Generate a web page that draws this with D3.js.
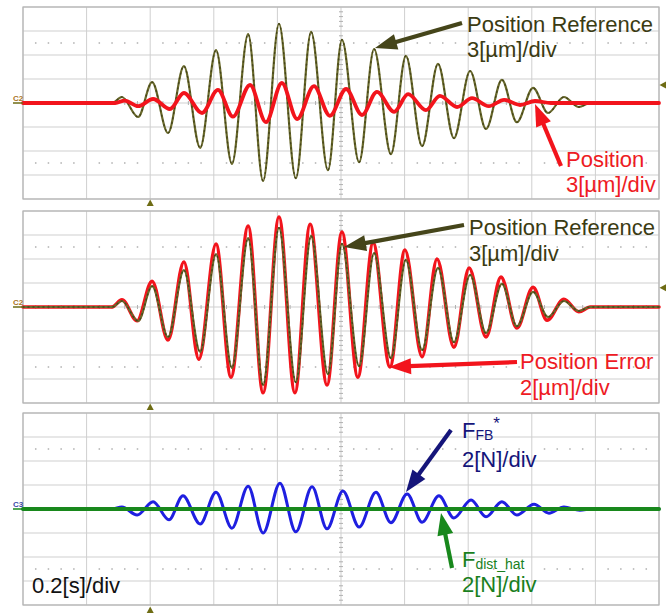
<!DOCTYPE html>
<html>
<head>
<meta charset="utf-8">
<script src="https://cdn.jsdelivr.net/npm/d3@7/dist/d3.min.js"></script>
<style>
  html, body { margin: 0; padding: 0; background: #ffffff; }
  svg { display: block; }
  text { font-family: "Liberation Sans", Arial, sans-serif; }
</style>
</head>
<body>
<svg id="chart" width="668" height="613"></svg>
<script>
// ---------------- DATA ----------------
// time axis: 0.2 s / div, 10 divisions
const timeDomain = [0, 2.0];
const timeUnitLabel = "0.2[s]/div";

// Position reference (µm), used in panel 1 and panel 2 (3 µm/div)
const refTimes  = [0, 0.280, 0.311, 0.362, 0.406, 0.456, 0.506, 0.557, 0.607, 0.657, 0.708, 0.755, 0.805, 0.858, 0.906, 0.959,
                   1.003, 1.057, 1.104, 1.157, 1.204, 1.255, 1.305, 1.355, 1.406, 1.456, 1.506, 1.553, 1.604, 1.651,
                   1.701, 1.748, 1.783, 2.0];
const refValues = [0, 0, 0.75, -1.75, 2.6, -3.75, 4.6, -5.6, 6.6, -7.6, 8.6, -9.75, 9.9, -9.4, 8.9, -8.4,
                   7.9, -7.4, 6.75, -6.4, 5.9, -5.4, 4.9, -4.4, 4.0, -3.25, 2.9, -2.4, 1.9, -1.25,
                   0.75, -0.5, 0, 0];

// Position (µm), panel 1 (3 µm/div)
const posTimes  = [0, 0.290, 0.320, 0.362, 0.409, 0.462, 0.506, 0.563, 0.613, 0.660, 0.714, 0.764, 0.814, 0.862, 0.915, 0.965,
                   1.016, 1.066, 1.113, 1.167, 1.211, 1.267, 1.311, 1.365, 1.412, 1.465, 1.513, 1.563, 1.610, 1.660, 2.0];
const posValues = [0, 0, 0.3, -0.4, 0.5, -0.75, 1.25, -1.25, 1.65, -1.7, 2.25, -2.4, 2.5, -2.0, 2.1, -1.6,
                   1.75, -1.5, 1.4, -1.1, 1.1, -0.9, 0.9, -0.5, 0.6, -0.4, 0.4, -0.25, 0.25, 0, 0];

// Position error (µm), panel 2 (2 µm/div)
const errTimes  = [0, 0.280, 0.311, 0.359, 0.406, 0.456, 0.506, 0.553, 0.607, 0.654, 0.708, 0.755, 0.805, 0.855, 0.903, 0.956,
                   1.003, 1.053, 1.101, 1.154, 1.201, 1.255, 1.302, 1.355, 1.403, 1.456, 1.503, 1.553, 1.604, 1.648,
                   1.701, 1.748, 1.783, 2.0];
const errValues = [0, 0, 0.6, -1.15, 2.15, -2.75, 3.75, -4.35, 5.25, -5.85, 6.75, -7.15, 7.5, -7.15, 6.9, -6.5,
                   6.25, -5.85, 5.35, -5.0, 4.75, -4.15, 4.0, -3.35, 3.25, -2.5, 2.5, -1.75, 1.65, -1.1,
                   0.65, -0.4, 0, 0];

// F_FB* (N), panel 3 (2 N/div)
const ffbTimes  = [0, 0.280, 0.311, 0.359, 0.409, 0.459, 0.503, 0.557, 0.607, 0.657, 0.708, 0.755, 0.808, 0.858, 0.909, 0.956,
                   1.006, 1.057, 1.110, 1.157, 1.208, 1.255, 1.308, 1.355, 1.409, 1.456, 1.506, 1.553, 1.607, 1.654,
                   1.701, 1.751, 1.790, 2.0];
const ffbValues = [0, 0, 0.17, -0.5, 0.6, -0.9, 1.1, -1.25, 1.4, -1.6, 1.9, -2.0, 2.15, -1.9, 1.85, -1.65,
                   1.5, -1.5, 1.4, -1.15, 1.25, -1.1, 1.1, -0.75, 0.75, -0.65, 0.6, -0.5, 0.4, -0.35,
                   0.17, -0.1, 0, 0];

// F_dist_hat (N), panel 3 (2 N/div)
const fdistTimes  = [0, 2.0];
const fdistValues = [0, 0];

// ---------------- LAYOUT ----------------
const svg = d3.select("#chart");
const left = 23, right = 659, divPx = 24, nDivY = 8;
const panelTops = [7, 211, 413];
const x = d3.scaleLinear().domain(timeDomain).range([left, right]);
const FS = 22;

const C = {
  grid: "#cfcfcf", border: "#b4b4b4", dots: "#b0b0b0",
  olive: "#6a6a2c", oliveDark: "#45451a", oliveText: "#3b3b12",
  red: "#f2141c", redText: "#ee1b24",
  blue: "#1f1fe0", navy: "#15157a",
  green: "#18881c", greenText: "#1a7f1e",
  marker: "#6e6c14"
};

function panelScale(top, perDiv) {
  return d3.scaleLinear().domain([-nDivY / 2 * perDiv, nDivY / 2 * perDiv]).range([top + nDivY * divPx, top]);
}

function drawGrid(top) {
  const g = svg.append("g");
  const bottom = top + nDivY * divPx;
  const yDiv = d3.scaleLinear().domain([-4, 4]).range([bottom, top]);
  const xt = x.ticks(10);
  const yt = yDiv.ticks(8);
  g.selectAll(".vg").data(xt).join("line")
    .attr("x1", d => x(d)).attr("x2", d => x(d)).attr("y1", top).attr("y2", bottom)
    .attr("stroke", C.grid).attr("stroke-width", 1);
  g.selectAll(".hg").data(yt).join("line")
    .attr("y1", d => yDiv(d)).attr("y2", d => yDiv(d)).attr("x1", left).attr("x2", right)
    .attr("stroke", C.grid).attr("stroke-width", 1);
  const minor = d3.range(0, 2.0001, 0.04).filter((d, i) => i % 5 !== 0);
  [2.5, -2.5].forEach(r => {
    g.selectAll(null).data(minor).join("rect")
      .attr("x", d => x(d) - 0.75).attr("y", yDiv(r) - 0.75).attr("width", 1.5).attr("height", 1.5)
      .attr("fill", C.dots);
  });
  g.selectAll(null).data(minor).join("line")
    .attr("x1", d => x(d)).attr("x2", d => x(d)).attr("y1", yDiv(0) - 2).attr("y2", yDiv(0) + 2)
    .attr("stroke", C.dots).attr("stroke-width", 1);
  const minorY = d3.range(-4, 4.0001, 0.2).filter((d, i) => i % 5 !== 0);
  g.selectAll(null).data(minorY).join("line")
    .attr("y1", d => yDiv(d)).attr("y2", d => yDiv(d)).attr("x1", x(1) - 2).attr("x2", x(1) + 2)
    .attr("stroke", C.dots).attr("stroke-width", 1);
  g.append("rect").attr("x", left).attr("y", top).attr("width", right - left).attr("height", bottom - top)
    .attr("fill", "none").attr("stroke", C.border).attr("stroke-width", 1.2);
  return yDiv;
}

function trace(times, values, yScale, color, width, dash) {
  const pts = times.map((t, i) => ({ t, v: values[i] }));
  const line = d3.line().x(d => x(d.t)).y(d => yScale(d.v)).curve(d3.curveMonotoneX);
  const p = svg.append("path").datum(pts).attr("d", line)
    .attr("fill", "none").attr("stroke", color).attr("stroke-width", width)
    .attr("stroke-linejoin", "round").attr("stroke-linecap", "round");
  if (dash) p.attr("stroke-dasharray", dash);
  return p;
}

function oliveTrace(yScale) {
  trace(refTimes, refValues, yScale, C.olive, 2.2);
  trace(refTimes, refValues, yScale, C.oliveDark, 1.4, "1,4");
}

function arrow(x1, y1, x2, y2, color) {
  const L = 22, W = 8;
  const dx = x2 - x1, dy = y2 - y1, len = Math.hypot(dx, dy);
  const ux = dx / len, uy = dy / len;
  const bx = x2 - ux * L, by = y2 - uy * L;
  svg.append("line").attr("x1", x1).attr("y1", y1).attr("x2", bx + ux * 2).attr("y2", by + uy * 2)
    .attr("stroke", color).attr("stroke-width", 4.2);
  svg.append("path")
    .attr("d", `M${x2},${y2}L${bx - uy * W},${by + ux * W}L${bx + uy * W},${by - ux * W}Z`)
    .attr("fill", color);
}

function label(xp, yp, str, color, size) {
  return svg.append("text").attr("x", xp).attr("y", yp).attr("fill", color)
    .attr("font-size", size || FS).text(str);
}

function chanMarker(top, txt, txtColor, lineColor) {
  const yc = top + nDivY * divPx / 2;
  svg.append("text").attr("x", 13).attr("y", yc - 2.5).attr("font-size", 8).attr("font-weight", "bold")
    .attr("fill", txtColor).text(txt);
  svg.append("line").attr("x1", 13).attr("x2", left).attr("y1", yc).attr("y2", yc)
    .attr("stroke", lineColor).attr("stroke-width", 1.5);
}

function triUp(cx, cy) {
  svg.append("path").attr("d", `M${cx},${cy - 3.5}L${cx + 3.5},${cy + 3}L${cx - 3.5},${cy + 3}Z`).attr("fill", C.marker);
}
function triLeft(cx, cy) {
  svg.append("path").attr("d", `M${cx - 3.5},${cy}L${cx + 3},${cy - 3.5}L${cx + 3},${cy + 3.5}Z`).attr("fill", C.marker);
}

// ---------------- PANEL 1 ----------------
{
  const top = panelTops[0];
  drawGrid(top);
  const yRef = panelScale(top, 3);
  const yPos = panelScale(top, 3);
  oliveTrace(yRef);
  trace(posTimes, posValues, yPos, C.red, 3.8);
  chanMarker(top, "C2", "#a8741e", C.marker);
  triUp(x(0.4), top + nDivY * divPx + 4);
  triLeft(663, yRef(2.25));
  label(467, 32, "Position Reference", C.oliveText);
  label(467, 57, "3[µm]/div", C.oliveText);
  arrow(462, 23, 375, 48, C.oliveDark);
  label(566, 167, "Position", C.redText);
  label(566, 192, "3[µm]/div", C.redText);
  arrow(561, 166, 535, 104, C.red);
}

// ---------------- PANEL 2 ----------------
{
  const top = panelTops[1];
  drawGrid(top);
  const yRef = panelScale(top, 3);
  const yErr = panelScale(top, 2);
  trace(errTimes, errValues, yErr, C.red, 3.6);
  oliveTrace(yRef);
  chanMarker(top, "C2", "#a8741e", C.marker);
  triUp(x(0.4), top + nDivY * divPx + 4);
  triLeft(663, yRef(2.4));
  label(469, 235, "Position Reference", C.oliveText);
  label(469, 261, "3[µm]/div", C.oliveText);
  arrow(464, 225, 344, 247, C.oliveDark);
  label(520, 369, "Position Error", C.redText);
  label(520, 395, "2[µm]/div", C.redText);
  arrow(517, 362, 389, 367, C.red);
}

// ---------------- PANEL 3 ----------------
{
  const top = panelTops[2];
  drawGrid(top);
  const yF = panelScale(top, 2);
  trace(ffbTimes, ffbValues, yF, C.blue, 3.0);
  trace(fdistTimes, fdistValues, yF, C.green, 4);
  chanMarker(top, "C3", "#3a4aa8", C.green);
  triUp(x(0.4), top + nDivY * divPx + 5);

  const t1 = svg.append("text").attr("x", 462).attr("y", 438).attr("fill", C.navy).attr("font-size", FS);
  t1.append("tspan").text("F");
  t1.append("tspan").attr("font-size", 14).attr("dy", 2).text("FB");
  t1.append("tspan").attr("font-size", 17).attr("dy", -11).text("*");
  label(462, 467, "2[N]/div", C.navy);
  arrow(451, 430, 406, 492, C.navy);

  const t2 = svg.append("text").attr("x", 462).attr("y", 567).attr("fill", C.greenText).attr("font-size", FS);
  t2.append("tspan").text("F");
  t2.append("tspan").attr("font-size", 14).attr("dy", 2).text("dist_hat");
  label(462, 592, "2[N]/div", C.greenText);
  arrow(452, 568, 441, 513, C.green);

  label(32, 593, timeUnitLabel, "#111111");
}
</script>
</body>
</html>
